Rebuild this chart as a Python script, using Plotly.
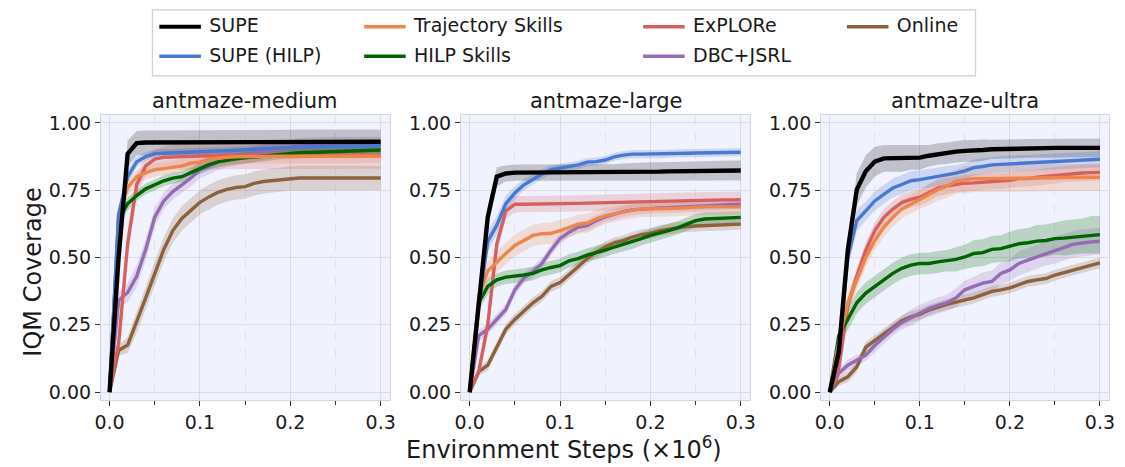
import plotly.graph_objects as go

W, H = 1125, 467

steps = [0.00, 0.01, 0.02, 0.03, 0.04, 0.05, 0.06, 0.07, 0.08, 0.09, 0.10,
         0.11, 0.12, 0.13, 0.14, 0.15, 0.16, 0.17, 0.18, 0.19, 0.20,
         0.21, 0.22, 0.23, 0.24, 0.25, 0.26, 0.27, 0.28, 0.29, 0.30]

panel_titles = ["antmaze-medium", "antmaze-large", "antmaze-ultra"]
method_names = ["SUPE", "SUPE (HILP)", "Trajectory Skills", "HILP Skills", "ExPLORe", "DBC+JSRL", "Online"]
method_colors = ["#000000", "#4878d0", "#ee854a", "#006400", "#d65f5f", "#956cb4", "#8c613c"]
y_ticks = [0.0, 0.25, 0.5, 0.75, 1.0]
y_tick_labels = ["0.00", "0.25", "0.50", "0.75", "1.00"]
x_ticks = [0.0, 0.1, 0.2, 0.3]
x_tick_labels = ["0.0", "0.1", "0.2", "0.3"]

# ---------------- antmaze-medium ----------------
supe_m = [0.000, 0.500, 0.885, 0.925, 0.927, 0.927, 0.927, 0.927, 0.927, 0.927, 0.927, 0.927, 0.927, 0.927, 0.927, 0.928, 0.928, 0.929, 0.929, 0.929, 0.929, 0.930, 0.930, 0.930, 0.930, 0.930, 0.930, 0.930, 0.930, 0.930, 0.930]
supeh_m = [0.000, 0.660, 0.800, 0.855, 0.875, 0.885, 0.887, 0.888, 0.889, 0.890, 0.892, 0.893, 0.895, 0.897, 0.898, 0.900, 0.902, 0.905, 0.907, 0.909, 0.910, 0.911, 0.912, 0.912, 0.913, 0.913, 0.914, 0.914, 0.915, 0.915, 0.915]
traj_m = [0.000, 0.660, 0.760, 0.800, 0.815, 0.826, 0.830, 0.835, 0.840, 0.850, 0.855, 0.865, 0.870, 0.872, 0.874, 0.875, 0.875, 0.875, 0.875, 0.876, 0.876, 0.876, 0.876, 0.876, 0.876, 0.876, 0.876, 0.876, 0.876, 0.876, 0.876]
hilpsk_m = [0.000, 0.640, 0.700, 0.730, 0.755, 0.770, 0.785, 0.795, 0.800, 0.815, 0.830, 0.845, 0.855, 0.862, 0.866, 0.870, 0.873, 0.877, 0.881, 0.885, 0.888, 0.889, 0.890, 0.891, 0.892, 0.893, 0.894, 0.895, 0.896, 0.897, 0.899]
explore_m = [0.000, 0.180, 0.550, 0.770, 0.840, 0.865, 0.872, 0.874, 0.875, 0.876, 0.877, 0.877, 0.878, 0.878, 0.878, 0.878, 0.879, 0.879, 0.879, 0.879, 0.879, 0.880, 0.880, 0.880, 0.880, 0.880, 0.880, 0.880, 0.880, 0.880, 0.880]
dbc_m = [0.000, 0.340, 0.370, 0.430, 0.530, 0.650, 0.710, 0.745, 0.770, 0.795, 0.825, 0.838, 0.855, 0.866, 0.873, 0.878, 0.884, 0.893, 0.898, 0.905, 0.910, 0.914, 0.916, 0.917, 0.917, 0.917, 0.917, 0.917, 0.917, 0.917, 0.917]
online_m = [0.000, 0.155, 0.175, 0.260, 0.350, 0.440, 0.530, 0.600, 0.645, 0.675, 0.705, 0.725, 0.742, 0.753, 0.760, 0.763, 0.775, 0.782, 0.786, 0.790, 0.793, 0.795, 0.795, 0.795, 0.795, 0.795, 0.795, 0.795, 0.795, 0.795, 0.795]

supe_m_sd = [0.0, 0.05, 0.05, 0.045, 0.045, 0.045, 0.045, 0.045, 0.045, 0.045, 0.045, 0.045, 0.045, 0.045, 0.045, 0.045, 0.045, 0.045, 0.045, 0.045, 0.045, 0.045, 0.045, 0.045, 0.045, 0.045, 0.045, 0.045, 0.045, 0.045, 0.045]
supeh_m_sd = [0.0, 0.03, 0.025, 0.02, 0.015, 0.015, 0.015, 0.015, 0.015, 0.015, 0.015, 0.015, 0.015, 0.015, 0.015, 0.015, 0.015, 0.015, 0.015, 0.015, 0.015, 0.015, 0.015, 0.015, 0.015, 0.015, 0.015, 0.015, 0.015, 0.015, 0.015]
traj_m_sd = [0.0, 0.03, 0.03, 0.025, 0.025, 0.025, 0.025, 0.025, 0.025, 0.025, 0.025, 0.025, 0.025, 0.025, 0.025, 0.025, 0.025, 0.025, 0.025, 0.025, 0.025, 0.025, 0.025, 0.025, 0.025, 0.025, 0.025, 0.025, 0.025, 0.025, 0.025]
hilpsk_m_sd = [0.0, 0.03, 0.025, 0.02, 0.02, 0.02, 0.02, 0.02, 0.02, 0.02, 0.02, 0.02, 0.02, 0.02, 0.02, 0.02, 0.02, 0.02, 0.02, 0.02, 0.02, 0.02, 0.02, 0.02, 0.02, 0.02, 0.02, 0.02, 0.02, 0.02, 0.02]
explore_m_sd = [0.0, 0.04, 0.05, 0.04, 0.035, 0.035, 0.04, 0.045, 0.05, 0.05, 0.05, 0.05, 0.05, 0.05, 0.05, 0.05, 0.05, 0.05, 0.05, 0.05, 0.05, 0.05, 0.05, 0.05, 0.05, 0.05, 0.05, 0.05, 0.05, 0.05, 0.05]
dbc_m_sd = [0.0, 0.03, 0.035, 0.04, 0.04, 0.035, 0.03, 0.03, 0.03, 0.03, 0.03, 0.03, 0.03, 0.03, 0.03, 0.03, 0.03, 0.03, 0.03, 0.03, 0.03, 0.03, 0.03, 0.03, 0.03, 0.03, 0.03, 0.03, 0.03, 0.03, 0.03]
online_m_sd = [0.0, 0.02, 0.03, 0.04, 0.045, 0.045, 0.045, 0.045, 0.045, 0.045, 0.045, 0.045, 0.045, 0.045, 0.045, 0.045, 0.045, 0.045, 0.045, 0.045, 0.045, 0.045, 0.045, 0.045, 0.045, 0.045, 0.045, 0.045, 0.045, 0.045, 0.045]

# ---------------- antmaze-large ----------------
supe_l = [0.000, 0.320, 0.650, 0.800, 0.812, 0.815, 0.815, 0.815, 0.815, 0.815, 0.815, 0.815, 0.815, 0.815, 0.815, 0.815, 0.816, 0.817, 0.818, 0.818, 0.819, 0.819, 0.820, 0.820, 0.821, 0.821, 0.822, 0.822, 0.823, 0.823, 0.823]
supeh_l = [0.000, 0.320, 0.560, 0.620, 0.700, 0.740, 0.770, 0.790, 0.810, 0.826, 0.832, 0.838, 0.844, 0.854, 0.856, 0.862, 0.874, 0.880, 0.884, 0.884, 0.884, 0.884, 0.885, 0.887, 0.887, 0.888, 0.888, 0.889, 0.890, 0.890, 0.891]
traj_l = [0.000, 0.356, 0.450, 0.484, 0.515, 0.545, 0.563, 0.582, 0.588, 0.590, 0.600, 0.612, 0.624, 0.627, 0.643, 0.655, 0.663, 0.670, 0.676, 0.680, 0.680, 0.681, 0.681, 0.683, 0.685, 0.688, 0.688, 0.688, 0.688, 0.688, 0.688]
hilpsk_l = [0.000, 0.332, 0.393, 0.417, 0.427, 0.430, 0.435, 0.441, 0.454, 0.463, 0.470, 0.488, 0.496, 0.509, 0.517, 0.527, 0.539, 0.549, 0.557, 0.570, 0.582, 0.590, 0.600, 0.610, 0.624, 0.637, 0.643, 0.645, 0.646, 0.647, 0.649]
explore_l = [0.000, 0.076, 0.250, 0.550, 0.673, 0.698, 0.698, 0.698, 0.699, 0.699, 0.700, 0.700, 0.701, 0.702, 0.703, 0.704, 0.705, 0.706, 0.707, 0.708, 0.709, 0.710, 0.710, 0.711, 0.712, 0.712, 0.713, 0.713, 0.714, 0.714, 0.715]
dbc_l = [0.000, 0.210, 0.234, 0.270, 0.307, 0.380, 0.423, 0.448, 0.478, 0.527, 0.570, 0.594, 0.612, 0.618, 0.637, 0.651, 0.661, 0.670, 0.677, 0.680, 0.683, 0.684, 0.685, 0.686, 0.687, 0.690, 0.691, 0.693, 0.695, 0.697, 0.698]
online_l = [0.000, 0.076, 0.100, 0.167, 0.234, 0.270, 0.300, 0.332, 0.356, 0.393, 0.407, 0.435, 0.466, 0.496, 0.520, 0.539, 0.554, 0.563, 0.576, 0.585, 0.590, 0.600, 0.606, 0.612, 0.615, 0.617, 0.618, 0.618, 0.619, 0.622, 0.624]

supe_l_sd = [0.0, 0.03, 0.04, 0.035, 0.03, 0.03, 0.03, 0.03, 0.03, 0.03, 0.03, 0.03, 0.03, 0.03, 0.03, 0.03, 0.03, 0.032, 0.033, 0.034, 0.035, 0.035, 0.035, 0.036, 0.036, 0.037, 0.037, 0.037, 0.037, 0.037, 0.037]
supeh_l_sd = [0.0, 0.03, 0.04, 0.035, 0.03, 0.025, 0.02, 0.02, 0.018, 0.016, 0.015, 0.015, 0.015, 0.015, 0.015, 0.015, 0.015, 0.015, 0.015, 0.015, 0.015, 0.015, 0.015, 0.015, 0.015, 0.015, 0.015, 0.015, 0.015, 0.015, 0.015]
traj_l_sd = [0.0, 0.03, 0.035, 0.04, 0.04, 0.04, 0.04, 0.04, 0.04, 0.04, 0.04, 0.035, 0.035, 0.035, 0.035, 0.03, 0.03, 0.03, 0.03, 0.03, 0.03, 0.03, 0.03, 0.03, 0.03, 0.03, 0.03, 0.03, 0.03, 0.03, 0.03]
hilpsk_l_sd = [0.0, 0.03, 0.03, 0.025, 0.025, 0.025, 0.025, 0.025, 0.025, 0.025, 0.025, 0.025, 0.025, 0.025, 0.025, 0.025, 0.025, 0.025, 0.025, 0.025, 0.025, 0.025, 0.025, 0.025, 0.025, 0.025, 0.025, 0.025, 0.025, 0.025, 0.025]
explore_l_sd = [0.0, 0.02, 0.04, 0.04, 0.03, 0.03, 0.03, 0.03, 0.03, 0.03, 0.03, 0.03, 0.03, 0.03, 0.03, 0.03, 0.03, 0.03, 0.03, 0.03, 0.03, 0.03, 0.03, 0.03, 0.03, 0.03, 0.03, 0.03, 0.03, 0.03, 0.03]
dbc_l_sd = [0.0, 0.02, 0.02, 0.02, 0.02, 0.02, 0.02, 0.02, 0.02, 0.02, 0.02, 0.02, 0.02, 0.02, 0.02, 0.02, 0.02, 0.02, 0.02, 0.02, 0.02, 0.02, 0.02, 0.02, 0.02, 0.02, 0.02, 0.02, 0.02, 0.02, 0.02]
online_l_sd = [0.0, 0.015, 0.02, 0.02, 0.02, 0.02, 0.02, 0.02, 0.02, 0.02, 0.02, 0.02, 0.02, 0.02, 0.02, 0.02, 0.02, 0.02, 0.02, 0.02, 0.02, 0.02, 0.02, 0.02, 0.02, 0.02, 0.02, 0.02, 0.02, 0.02, 0.02]

# ---------------- antmaze-ultra ----------------
supe_u = [0.000, 0.149, 0.527, 0.752, 0.820, 0.856, 0.868, 0.868, 0.868, 0.871, 0.871, 0.878, 0.884, 0.887, 0.893, 0.896, 0.896, 0.899, 0.902, 0.902, 0.903, 0.904, 0.905, 0.905, 0.906, 0.907, 0.907, 0.907, 0.907, 0.907, 0.907]
supeh_u = [0.000, 0.149, 0.500, 0.637, 0.673, 0.710, 0.734, 0.758, 0.771, 0.785, 0.789, 0.795, 0.800, 0.805, 0.813, 0.822, 0.834, 0.838, 0.844, 0.846, 0.848, 0.850, 0.852, 0.854, 0.855, 0.856, 0.858, 0.860, 0.861, 0.863, 0.865]
traj_u = [0.000, 0.185, 0.332, 0.417, 0.500, 0.563, 0.612, 0.649, 0.680, 0.698, 0.716, 0.734, 0.752, 0.765, 0.783, 0.789, 0.793, 0.793, 0.793, 0.793, 0.794, 0.794, 0.795, 0.795, 0.796, 0.796, 0.797, 0.797, 0.798, 0.798, 0.798]
hilpsk_u = [0.000, 0.210, 0.270, 0.332, 0.368, 0.393, 0.417, 0.441, 0.460, 0.472, 0.478, 0.478, 0.484, 0.488, 0.493, 0.502, 0.515, 0.518, 0.530, 0.533, 0.541, 0.551, 0.555, 0.561, 0.563, 0.570, 0.572, 0.576, 0.580, 0.584, 0.585]
explore_u = [0.000, 0.088, 0.320, 0.430, 0.527, 0.600, 0.649, 0.680, 0.704, 0.716, 0.724, 0.740, 0.758, 0.765, 0.771, 0.776, 0.777, 0.780, 0.783, 0.783, 0.787, 0.793, 0.793, 0.798, 0.801, 0.805, 0.810, 0.813, 0.814, 0.815, 0.816]
dbc_u = [0.000, 0.070, 0.100, 0.118, 0.137, 0.173, 0.204, 0.234, 0.259, 0.277, 0.295, 0.310, 0.322, 0.332, 0.350, 0.380, 0.393, 0.405, 0.411, 0.441, 0.454, 0.478, 0.490, 0.502, 0.515, 0.527, 0.539, 0.549, 0.554, 0.557, 0.561]
online_u = [0.000, 0.039, 0.057, 0.094, 0.167, 0.190, 0.216, 0.240, 0.265, 0.280, 0.289, 0.305, 0.317, 0.326, 0.334, 0.341, 0.350, 0.362, 0.374, 0.380, 0.387, 0.399, 0.411, 0.417, 0.422, 0.435, 0.444, 0.454, 0.462, 0.472, 0.480]

supe_u_sd = [0.0, 0.03, 0.05, 0.06, 0.06, 0.055, 0.05, 0.05, 0.05, 0.045, 0.045, 0.04, 0.04, 0.04, 0.04, 0.04, 0.04, 0.04, 0.035, 0.035, 0.035, 0.035, 0.035, 0.035, 0.035, 0.035, 0.035, 0.035, 0.035, 0.035, 0.035]
supeh_u_sd = [0.0, 0.03, 0.04, 0.04, 0.035, 0.035, 0.035, 0.035, 0.035, 0.035, 0.035, 0.035, 0.035, 0.035, 0.03, 0.03, 0.03, 0.03, 0.03, 0.03, 0.03, 0.03, 0.03, 0.03, 0.03, 0.03, 0.03, 0.03, 0.03, 0.03, 0.03]
traj_u_sd = [0.0, 0.03, 0.035, 0.035, 0.035, 0.035, 0.035, 0.035, 0.035, 0.035, 0.035, 0.04, 0.04, 0.045, 0.045, 0.05, 0.05, 0.05, 0.05, 0.05, 0.05, 0.05, 0.05, 0.05, 0.05, 0.05, 0.05, 0.05, 0.05, 0.05, 0.05]
hilpsk_u_sd = [0.0, 0.03, 0.04, 0.04, 0.04, 0.04, 0.04, 0.04, 0.04, 0.04, 0.04, 0.04, 0.04, 0.04, 0.045, 0.045, 0.05, 0.05, 0.05, 0.05, 0.055, 0.055, 0.055, 0.06, 0.06, 0.06, 0.065, 0.065, 0.065, 0.07, 0.07]
explore_u_sd = [0.0, 0.02, 0.03, 0.03, 0.03, 0.03, 0.03, 0.03, 0.03, 0.03, 0.03, 0.03, 0.03, 0.03, 0.03, 0.03, 0.03, 0.03, 0.03, 0.03, 0.03, 0.03, 0.03, 0.03, 0.03, 0.03, 0.03, 0.03, 0.03, 0.03, 0.03]
dbc_u_sd = [0.0, 0.02, 0.02, 0.02, 0.02, 0.025, 0.025, 0.025, 0.025, 0.03, 0.03, 0.03, 0.03, 0.03, 0.035, 0.035, 0.035, 0.04, 0.04, 0.04, 0.04, 0.045, 0.045, 0.045, 0.045, 0.05, 0.05, 0.05, 0.05, 0.05, 0.05]
online_u_sd = [0.0, 0.015, 0.02, 0.02, 0.02, 0.02, 0.02, 0.02, 0.02, 0.02, 0.02, 0.02, 0.02, 0.02, 0.02, 0.02, 0.02, 0.02, 0.02, 0.02, 0.02, 0.02, 0.02, 0.02, 0.02, 0.02, 0.02, 0.02, 0.02, 0.02, 0.02]

panels = [
    ([supe_m, supeh_m, traj_m, hilpsk_m, explore_m, dbc_m, online_m],
     [supe_m_sd, supeh_m_sd, traj_m_sd, hilpsk_m_sd, explore_m_sd, dbc_m_sd, online_m_sd]),
    ([supe_l, supeh_l, traj_l, hilpsk_l, explore_l, dbc_l, online_l],
     [supe_l_sd, supeh_l_sd, traj_l_sd, hilpsk_l_sd, explore_l_sd, dbc_l_sd, online_l_sd]),
    ([supe_u, supeh_u, traj_u, hilpsk_u, explore_u, dbc_u, online_u],
     [supe_u_sd, supeh_u_sd, traj_u_sd, hilpsk_u_sd, explore_u_sd, dbc_u_sd, online_u_sd]),
]

FONT = "DejaVu Sans"


def hex_rgba(h, a):
    h = h.lstrip("#")
    return "rgba(%d,%d,%d,%.3f)" % (int(h[0:2], 16), int(h[2:4], 16), int(h[4:6], 16), a)


# pixel geometry of the three panels
panel_px_x = [(96, 388), (460, 752), (824, 1115)]
panel_px_y = (113, 402)

fig = go.Figure()

draw_order = [6, 5, 4, 3, 2, 1, 0]
legend_keys = ["legend", "legend2", "legend3", "legend4", "legend5", "legend6", "legend7"]
for p, (means, sds) in enumerate(panels):
    xa = "x" if p == 0 else "x%d" % (p + 1)
    ya = "y" if p == 0 else "y%d" % (p + 1)
    for k in draw_order:
        m, s = means[k], sds[k]
        upper = [a + b for a, b in zip(m, s)]
        lower = [a - b for a, b in zip(m, s)]
        alpha = 0.2 if k == 0 else 0.22
        fig.add_trace(go.Scatter(
            x=steps + steps[::-1], y=upper + lower[::-1],
            fill="toself", fillcolor=hex_rgba(method_colors[k], alpha),
            line=dict(width=0), mode="lines", hoverinfo="skip",
            showlegend=False, xaxis=xa, yaxis=ya))
    for k in draw_order:
        fig.add_trace(go.Scatter(
            x=steps, y=means[k], mode="lines",
            line=dict(color=method_colors[k], width=4.4 if k == 0 else 3.4),
            name=method_names[k], showlegend=False, xaxis=xa, yaxis=ya))

# legend entries (text via plotly legends; handles drawn as longer line shapes)
for k in range(7):
    fig.add_trace(go.Scatter(
        x=[None], y=[None], mode="lines",
        line=dict(color="rgba(0,0,0,0)", width=3),
        name=method_names[k], showlegend=True, legend=legend_keys[k],
        hoverinfo="skip"))

layout = dict(
    width=W, height=H,
    margin=dict(l=0, r=0, t=0, b=0),
    paper_bgcolor="white",
    plot_bgcolor="#f0f2fd",
    font=dict(family=FONT, size=19, color="#1a1a1a"),
    showlegend=True,
)

y0p = 1 - panel_px_y[1] / H
y1p = 1 - panel_px_y[0] / H
for p in range(3):
    xk = "xaxis" if p == 0 else "xaxis%d" % (p + 1)
    yk = "yaxis" if p == 0 else "yaxis%d" % (p + 1)
    xa = "x" if p == 0 else "x%d" % (p + 1)
    ya = "y" if p == 0 else "y%d" % (p + 1)
    layout[xk] = dict(
        domain=[panel_px_x[p][0] / W, panel_px_x[p][1] / W],
        range=[-0.0095, 0.3102], anchor=ya,
        tickvals=x_ticks, ticktext=x_tick_labels,
        ticks="outside", ticklen=5, tickwidth=1.2, tickcolor="#333333",
        tickfont=dict(size=19, family=FONT, color="#1a1a1a"),
        showgrid=True, gridcolor="#dadbe3", gridwidth=1.2,
        minor=dict(dtick=0.05, tick0=0, showgrid=True, gridcolor="#e2e3ea",
                   griddash="dash", gridwidth=1, ticks="outside", ticklen=4,
                   tickcolor="#333333"),
        showline=True, mirror=True, linecolor="#d4d5dc", linewidth=1.2,
        zeroline=False,
    )
    layout[yk] = dict(
        domain=[y0p, y1p],
        range=[-0.029, 1.028], anchor=xa,
        tickvals=y_ticks, ticktext=y_tick_labels,
        ticks="outside", ticklen=5, tickwidth=1.2, tickcolor="#333333",
        tickfont=dict(size=19, family=FONT, color="#1a1a1a"),
        showgrid=True, gridcolor="#dadbe3", gridwidth=1.2,
        showline=True, mirror=True, linecolor="#d4d5dc", linewidth=1.2,
        zeroline=False,
    )

annotations = []
for p in range(3):
    cx = (panel_px_x[p][0] + panel_px_x[p][1]) / 2 / W
    annotations.append(dict(text=panel_titles[p], x=cx, y=1 - 98 / H,
                            xref="paper", yref="paper", showarrow=False,
                            xanchor="center", yanchor="middle",
                            font=dict(size=21, family=FONT, color="#1a1a1a")))
annotations.append(dict(text="IQM Coverage", x=27 / W, y=1 - 272 / H,
                        xref="paper", yref="paper", showarrow=False, textangle=-90,
                        xanchor="center", yanchor="middle",
                        font=dict(size=24, family=FONT, color="#1a1a1a")))
annotations.append(dict(text="Environment Steps (×10<sup>6</sup>)", x=564 / W, y=1 - 451 / H,
                        xref="paper", yref="paper", showarrow=False,
                        xanchor="center", yanchor="middle",
                        font=dict(size=24, family=FONT, color="#1a1a1a")))
layout["annotations"] = annotations

# legend: one box per entry, placed in a 4 x 2 grid
legend_text_x = [211, 211, 418, 418, 700, 700, 906]
legend_row_y = [21, 51, 21, 51, 21, 51, 21]
shapes = [dict(type="rect", xref="paper", yref="paper",
               x0=148 / W, x1=980 / W, y0=1 - 73 / H, y1=1 - 6 / H,
               line=dict(color="#d0d0d0", width=1.2), fillcolor="rgba(0,0,0,0)")]
for k in range(7):
    layout[legend_keys[k]] = dict(
        x=(legend_text_x[k] - 46) / W, y=1 - legend_row_y[k] / H,
        xanchor="left", yanchor="middle", orientation="v",
        bgcolor="rgba(0,0,0,0)", borderwidth=0,
        font=dict(size=19, family=FONT, color="#1a1a1a"),
        itemwidth=30,
    )
    hy = 1 - (legend_row_y[k] + 2) / H
    shapes.append(dict(type="line", xref="paper", yref="paper",
                       x0=(legend_text_x[k] - 56) / W, x1=(legend_text_x[k] - 14) / W,
                       y0=hy, y1=hy,
                       line=dict(color=method_colors[k], width=4 if k == 0 else 3.5)))
layout["shapes"] = shapes

fig.update_layout(**layout)
fig.write_html("out.html", config={"displayModeBar": False},
               post_script="document.body.style.margin='0';document.body.style.overflow='hidden';")
